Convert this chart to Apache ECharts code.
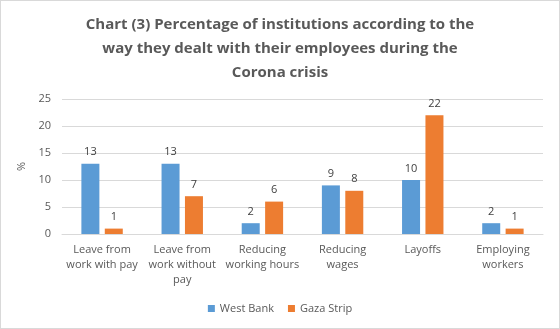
<!DOCTYPE html>
<html><head><meta charset="utf-8">
<script src="https://cdn.jsdelivr.net/npm/echarts@6/dist/echarts.min.js"></script>
<style>html,body{margin:0;padding:0;background:#fff}#c{width:558px;height:327px;border:1px solid #d9d9d9}</style>
</head><body><div id="c"></div>
<script>
const categories = ['Leave from\nwork with pay','Leave from\nwork without\npay','Reducing\nworking hours','Reducing\nwages','Layoffs','Employing\nworkers'];
const westBank = [13, 13, 2, 9, 10, 2];
const gaza = [1, 7, 6, 8, 22, 1];
const yTicks = {min: 0, max: 25, interval: 5};
const font = 'Open Sans, Noto Sans, sans-serif';
const chart = echarts.init(document.getElementById('c'));
chart.setOption({
  animation: false,
  title: {
    text: 'Chart (3) Percentage of institutions according to the\nway they dealt with their employees during the\nCorona crisis',
    left: 'center', top: 7,
    textStyle: {fontFamily: font, fontWeight: 'bold', fontSize: 15, color: '#595959', lineHeight: 24}
  },
  legend: {
    bottom: 9, left: 'center', itemWidth: 7, itemHeight: 7, itemGap: 14, icon: 'rect',
    textStyle: {fontFamily: font, fontSize: 11, color: '#595959'},
    data: ['West Bank', 'Gaza Strip']
  },
  grid: {left: 61, right: 16, top: 98, bottom: 94},
  xAxis: {
    type: 'category', data: categories,
    axisLine: {lineStyle: {color: '#d9d9d9'}}, axisTick: {show: false},
    axisLabel: {fontFamily: font, fontSize: 11, color: '#595959', lineHeight: 15, margin: 8, interval: 0}
  },
  yAxis: {
    type: 'value', min: yTicks.min, max: yTicks.max, interval: yTicks.interval,
    name: '%', nameLocation: 'middle', nameGap: 26, nameRotate: 90,
    nameTextStyle: {fontFamily: font, fontSize: 11, color: '#595959'},
    axisLine: {show: false}, axisTick: {show: false},
    axisLabel: {fontFamily: font, fontSize: 11, color: '#595959', margin: 11},
    splitLine: {lineStyle: {color: '#d9d9d9'}}
  },
  series: [
    {name: 'West Bank', type: 'bar', data: westBank, barWidth: 18, barGap: '30%',
     itemStyle: {color: '#5b9bd5'},
     label: {show: true, position: 'top', distance: 6, fontFamily: font, fontSize: 11, color: '#404040'}},
    {name: 'Gaza Strip', type: 'bar', data: gaza, barWidth: 18,
     itemStyle: {color: '#ed7d31'},
     label: {show: true, position: 'top', distance: 6, fontFamily: font, fontSize: 11, color: '#404040'}}
  ]
});
</script></body></html>
